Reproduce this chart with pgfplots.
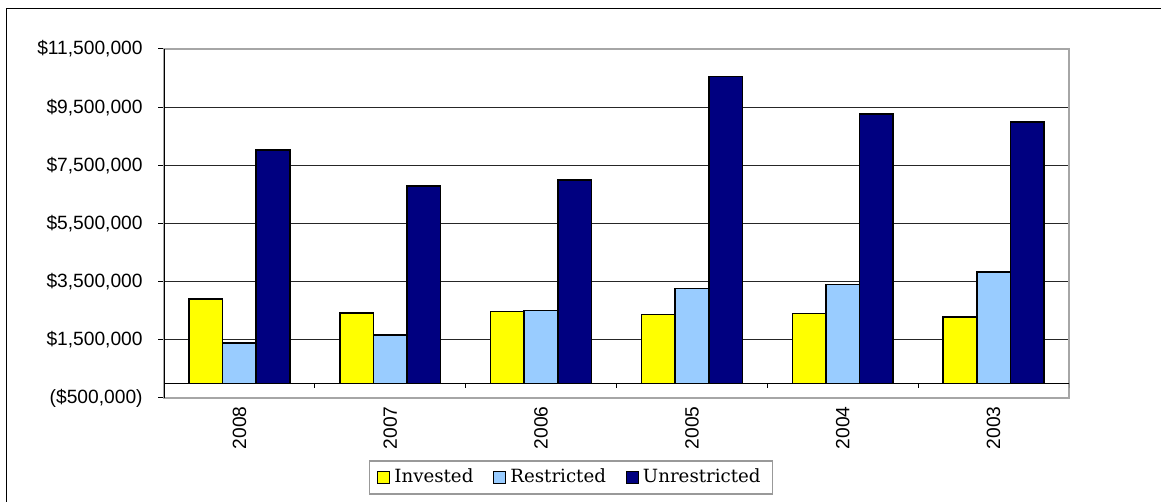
\documentclass[border=0pt]{standalone}
\usepackage{pgfplots}
\pgfplotsset{compat=1.18}
\usepackage{fontspec}
\setmainfont{Liberation Sans}
\newfontfamily\legfont{DejaVu Serif}

\definecolor{invested}{HTML}{FFFF00}
\definecolor{restricted}{HTML}{99CCFF}
\definecolor{unrestricted}{HTML}{000080}

\pgfplotsset{
  sqlegend/.style={legend image code/.code={%
      \draw[##1, draw=black, line width=0.5pt] (0pt,-3pt) rectangle (6pt,3pt);}},
}

\begin{document}
\begin{tikzpicture}
  \path[use as bounding box] (0,0) rectangle (580.5pt,251pt);
  \draw[black, line width=0.5pt] (3pt,-5pt) -- (3pt,246.5pt) -- (600pt,246.5pt);

  \begin{axis}[
    at={(82pt,52pt)}, anchor=south west,
    scale only axis, width=452.5pt, height=174.5pt,
    xmin=-0.5, xmax=5.5, ymin=-500000, ymax=11500000,
    ybar=0pt, bar width=16.8pt,
    scaled y ticks=false,
    font=\fontsize{9.6}{11}\selectfont,
    tick label style={font=\fontsize{9.6}{11}\selectfont},
    axis line style={gray!70, line width=0.6pt},
    xtick={0,...,5},
    xticklabels={2008,2007,2006,2005,2004,2003},
    xtick style={draw=none},
    xticklabel style={rotate=90, anchor=east, inner sep=1pt},
    ytick={-500000,1500000,3500000,5500000,7500000,9500000,11500000},
    yticklabels={{(\$500,000)},{\$1,500,000},{\$3,500,000},{\$5,500,000},{\$7,500,000},{\$9,500,000},{\$11,500,000}},
    ytick pos=left, tick align=outside, major tick length=3pt,
    ytick style={black, line width=0.5pt},
    yticklabel style={inner sep=0pt, xshift=-7.5pt},
    ymajorgrids, major grid style={black!85, line width=0.5pt},
    legend columns=3,
    legend style={at={(0.4497,-0.2278)}, anchor=center,
      font=\legfont\fontsize{9.1}{10}\selectfont,
      draw=gray!80, line width=0.7pt, inner xsep=4pt, inner ysep=2pt,
      /tikz/every even column/.append style={column sep=8pt}},
  ]
    \addplot[fill=invested, draw=black, line width=0.8pt, sqlegend]
      coordinates {(0,2910000) (1,2420000) (2,2470000) (3,2370000) (4,2410000) (5,2290000)};
    \addlegendentry{Invested}
    \addplot[fill=restricted, draw=black, line width=0.8pt, sqlegend]
      coordinates {(0,1400000) (1,1660000) (2,2510000) (3,3260000) (4,3400000) (5,3830000)};
    \addlegendentry{Restricted}
    \addplot[fill=unrestricted, draw=black, line width=0.8pt, sqlegend]
      coordinates {(0,8030000) (1,6790000) (2,7000000) (3,10560000) (4,9270000) (5,8990000)};
    \addlegendentry{Unrestricted}

    \draw[black, line width=0.5pt] (axis cs:-0.5,-500000) -- (axis cs:-0.5,11500000);
    \draw[black, line width=0.6pt] (axis cs:-0.5,0) -- (axis cs:5.5,0);
    \draw[black, line width=0.5pt] (axis cs:0.5,0) -- ([yshift=-2.5pt]axis cs:0.5,0);
    \draw[black, line width=0.5pt] (axis cs:1.5,0) -- ([yshift=-2.5pt]axis cs:1.5,0);
    \draw[black, line width=0.5pt] (axis cs:2.5,0) -- ([yshift=-2.5pt]axis cs:2.5,0);
    \draw[black, line width=0.5pt] (axis cs:3.5,0) -- ([yshift=-2.5pt]axis cs:3.5,0);
    \draw[black, line width=0.5pt] (axis cs:4.5,0) -- ([yshift=-2.5pt]axis cs:4.5,0);
    \draw[black, line width=0.5pt] (axis cs:5.5,0) -- ([yshift=-2.5pt]axis cs:5.5,0);
  \end{axis}
\end{tikzpicture}
\end{document}
